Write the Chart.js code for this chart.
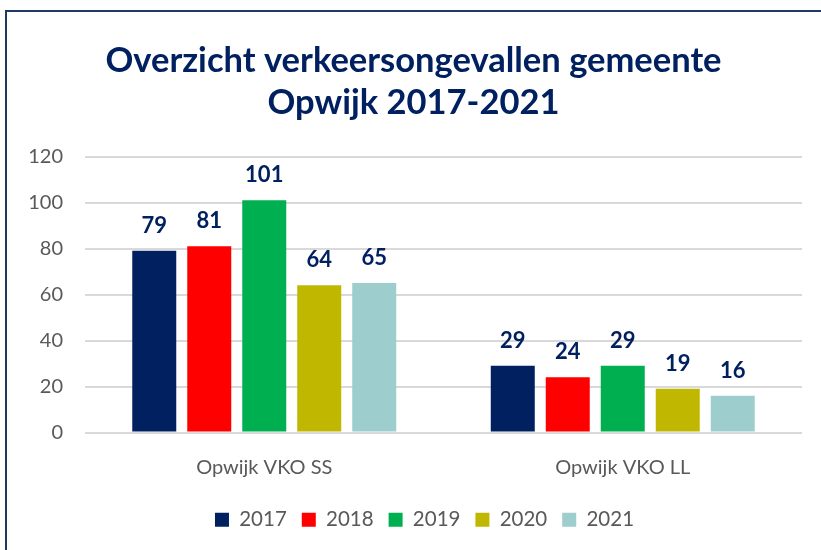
<!DOCTYPE html>
<html>
<head>
<meta charset="utf-8">
<script src="https://cdn.jsdelivr.net/npm/chart.js@4"></script>
<style>
    html, body { margin: 0; padding: 0; background: #fff; overflow: hidden; }
    #frame { position: absolute; left: 5px; top: 10px; width: 900px; height: 600px; border: 2px solid #1F3864; }
    #wrap { position: absolute; left: 0; top: 0; width: 821px; height: 550px; }
</style>
</head>
<body>
<div id="frame"></div>
<div id="wrap"><canvas id="chart"></canvas></div>
<script>
const categories = ['Opwijk VKO SS', 'Opwijk VKO LL'];
const years = ['2017', '2018', '2019', '2020', '2021'];
const values2017 = [79, 29];
const values2018 = [81, 24];
const values2019 = [101, 29];
const values2020 = [64, 19];
const values2021 = [65, 16];
const yTicks = [0, 20, 40, 60, 80, 100, 120];

const colors = ['#002060', '#FF0000', '#00B050', '#C0B800', '#9DCDCD'];
const seriesValues = [values2017, values2018, values2019, values2020, values2021];

const textFont = "Lato, 'Open Sans', sans-serif";

// draws the bold value above each bar
const valueLabels = {
    id: 'valueLabels',
    afterDatasetsDraw(chart) {
        const ctx = chart.ctx;
        ctx.save();
        ctx.fillStyle = '#002060';
        ctx.font = 'bold 22px ' + textFont;
        ctx.textAlign = 'center';
        ctx.textBaseline = 'alphabetic';
        chart.data.datasets.forEach((ds, i) => {
            chart.getDatasetMeta(i).data.forEach((bar, j) => {
                ctx.fillText(ds.data[j], bar.x, bar.y - 18);
            });
        });
        ctx.restore();
    }
};

// legend sits a little right of centre in the original
const legendShift = {
    id: 'legendShift',
    afterLayout(chart) {
        if (chart.legend) {
            chart.legend.left += 11;
            chart.legend.right += 11;
        }
    }
};

new Chart(document.getElementById('chart'), {
    type: 'bar',
    data: {
        labels: categories,
        datasets: years.map((y, i) => ({
            label: y,
            data: seriesValues[i],
            backgroundColor: colors[i],
            categoryPercentage: 0.767,
            barPercentage: 0.8
        }))
    },
    options: {
        responsive: true,
        maintainAspectRatio: false,
        animation: false,
        layout: { padding: { left: 25, right: 19, top: 29, bottom: 10 } },
        plugins: {
            title: {
                display: true,
                text: ['Overzicht verkeersongevallen gemeente', 'Opwijk 2017-2021'],
                color: '#002060',
                font: { family: textFont, size: 34.5, weight: 'bold', lineHeight: 1.24 },
                padding: { top: 10, bottom: 32 }
            },
            legend: {
                position: 'bottom',
                labels: {
                    boxWidth: 14,
                    boxHeight: 14,
                    padding: 15,
                    color: '#595959',
                    font: { family: textFont, size: 20.5 }
                }
            },
            tooltip: { enabled: false }
        },
        scales: {
            x: {
                grid: { display: false },
                border: { display: false },
                ticks: { color: '#595959', font: { family: textFont, size: 20 }, padding: 15 }
            },
            y: {
                min: 0,
                max: 120,
                afterBuildTicks: axis => { axis.ticks = yTicks.map(v => ({ value: v })); },
                afterFit: axis => { axis.width = 60; },
                grid: { color: '#D9D9D9', lineWidth: 2, drawTicks: false },
                border: { display: false },
                ticks: { color: '#595959', font: { family: textFont, size: 20 }, padding: 22 }
            }
        }
    },
    plugins: [valueLabels, legendShift]
});
</script>
</body>
</html>
